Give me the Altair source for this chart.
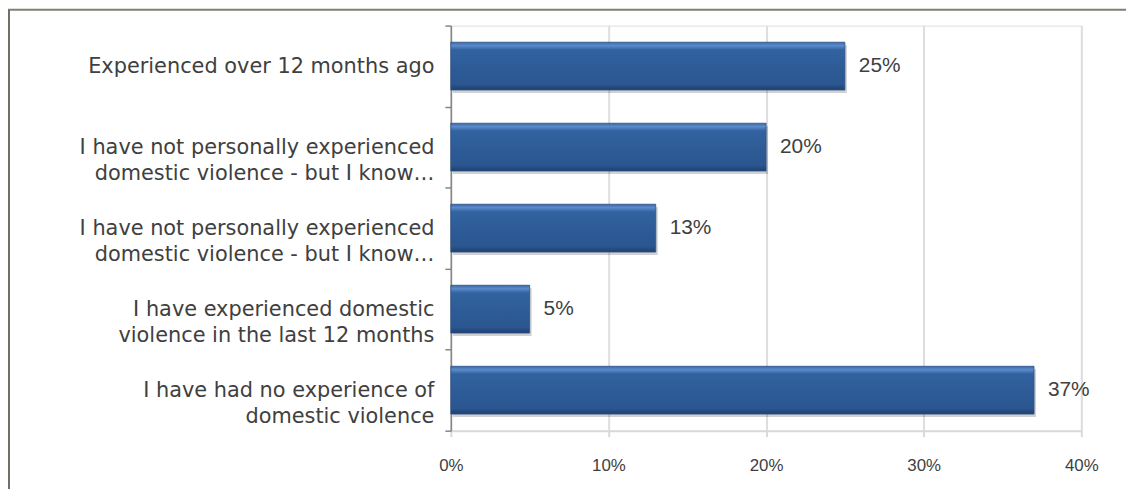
import altair as alt
import pandas as pd

categories = [
    "Experienced over 12 months ago",
    "I have not personally experienced|domestic violence - but I know…",
    "I have not personally experienced|domestic violence - but I know…\u200b",
    "I have experienced domestic|violence in the last 12 months",
    "I have had no experience of|domestic violence",
]
values = [0.25, 0.20, 0.13, 0.05, 0.37]
x_ticks = [0, 0.1, 0.2, 0.3, 0.4]

df = pd.DataFrame({"category": categories, "value": values})

FONT = "DejaVu Sans"
NUM_FONT = "Liberation Sans"
TEXT = "#404040"

bar_fill = alt.Gradient(
    gradient="linear",
    x1=0, x2=0, y1=0, y2=1,
    stops=[
        alt.GradientStop(offset=0.0, color="#3A68A6"),
        alt.GradientStop(offset=0.07, color="#5C8BCB"),
        alt.GradientStop(offset=0.16, color="#3263A0"),
        alt.GradientStop(offset=0.5, color="#2E5C97"),
        alt.GradientStop(offset=0.88, color="#2B5690"),
        alt.GradientStop(offset=1.0, color="#1D3F6E"),
    ],
)

y_enc = alt.Y(
    "category:N",
    sort=None,
    title=None,
    scale=alt.Scale(paddingInner=0, paddingOuter=0),
    axis=alt.Axis(
        labelExpr="split(datum.label, '|')",
        labelFont=FONT,
        labelFontSize=21,
        labelColor=TEXT,
        labelLineHeight=27,
        labelPadding=11,
        labelAlign="right",
        labelLimit=500,
        tickBand="extent",
        tickSize=6,
        tickColor="#868686",
        tickWidth=1.5,
        domainColor="#868686",
        domainWidth=1.5,
        grid=False,
    ),
)

x_enc = alt.X(
    "value:Q",
    title=None,
    scale=alt.Scale(domain=[0, 0.4], nice=False, zero=True),
    axis=alt.Axis(
        values=x_ticks,
        format=".0%",
        labelFont=NUM_FONT,
        labelFontSize=17,
        labelColor=TEXT,
        labelPadding=21,
        labelFlush=False,
        tickSize=6,
        tickColor="#D9D9D9",
        tickWidth=2,
        domainColor="#D9D9D9",
        domainWidth=2,
        grid=True,
        gridColor="#DDDDDD",
        gridWidth=2,
    ),
)

shadow = alt.Chart(df).mark_bar(
    color="#000000", opacity=0.18, xOffset=2, yOffset=3,
    height=alt.RelativeBandSize(0.59),
).encode(x=x_enc, y=y_enc)

bars = alt.Chart(df).mark_bar(
    fill=bar_fill, stroke="#2A5288", strokeWidth=0.8,
    height=alt.RelativeBandSize(0.59),
).encode(x=x_enc, y=y_enc)

labels = alt.Chart(df).mark_text(
    align="left", baseline="middle", dx=14, font=NUM_FONT, fontSize=21, color=TEXT
).encode(
    x=alt.X("value:Q"),
    y=alt.Y("category:N", sort=None),
    text=alt.Text("value:Q", format=".0%"),
)

frame_data = alt.Data(values=[{"k": 1}])
frame_top = alt.Chart(frame_data).mark_rule(color="#7F7F73", strokeWidth=2).encode(
    x=alt.value(-446), x2=alt.value(690), y=alt.value(-16)
)
frame_left = alt.Chart(frame_data).mark_rule(color="#6F6F66", strokeWidth=2).encode(
    x=alt.value(-445), y=alt.value(-16), y2=alt.value(480)
)

chart = alt.layer(shadow, bars, labels, frame_top, frame_left).properties(
    width=635,
    height=408,
    autosize=alt.AutoSizeParams(type="none"),
    padding={"left": 446, "top": 16, "right": 45, "bottom": 57},
).configure_view(stroke=None).configure(background="white")

chart.save("out.html", embed_options={"renderer": "svg", "actions": False})
